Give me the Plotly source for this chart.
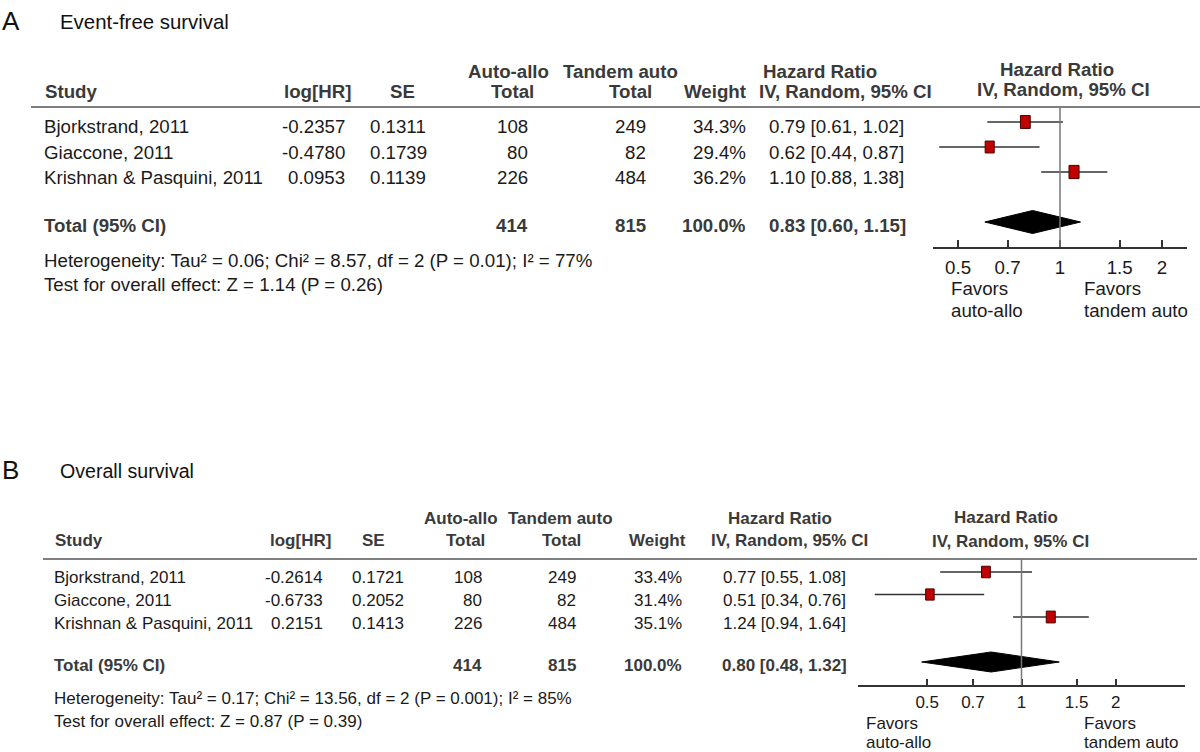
import math
import plotly.graph_objects as go

W, H = 1200, 752
FONT = "Liberation Sans, Arial, Helvetica, sans-serif"

# ---------------- data ----------------
studies = ["Bjorkstrand, 2011", "Giaccone, 2011", "Krishnan & Pasquini, 2011"]
tick_vals = [0.5, 0.7, 1, 1.5, 2]
tick_text = ["0.5", "0.7", "1", "1.5", "2"]
favors_left = ["Favors", "auto-allo"]
favors_right = ["Favors", "tandem auto"]

efs_loghr = [-0.2357, -0.4780, 0.0953]
efs_se = [0.1311, 0.1739, 0.1139]
efs_n_aa = [108, 80, 226]
efs_n_ta = [249, 82, 484]
efs_weight = [34.3, 29.4, 36.2]
efs_hr = [0.79, 0.62, 1.10]
efs_lo = [0.61, 0.44, 0.88]
efs_hi = [1.02, 0.87, 1.38]
efs_total = [414, 815, 100.0, 0.83, 0.60, 1.15]
efs_het = "Heterogeneity: Tau² = 0.06; Chi² = 8.57, df = 2 (P = 0.01); I² = 77%"
efs_test = "Test for overall effect: Z = 1.14 (P = 0.26)"

os_loghr = [-0.2614, -0.6733, 0.2151]
os_se = [0.1721, 0.2052, 0.1413]
os_n_aa = [108, 80, 226]
os_n_ta = [249, 82, 484]
os_weight = [33.4, 31.4, 35.1]
os_hr = [0.77, 0.51, 1.24]
os_lo = [0.55, 0.34, 0.94]
os_hi = [1.08, 0.76, 1.64]
os_total = [414, 815, 100.0, 0.80, 0.48, 1.32]
os_het = "Heterogeneity: Tau² = 0.17; Chi² = 13.56, df = 2 (P = 0.001); I² = 85%"
os_test = "Test for overall effect: Z = 0.87 (P = 0.39)"

# ---------------- layout (pixel positions) ----------------
PANEL_A = dict(
    letter="A", title="Event-free survival", letter_pos=(1, 21), title_pos=(59, 22),
    fs=18.7, tfs=20.4, hy1=71, hy2=91, hline=(31, 1200, 107),
    rows=[126, 152, 177], total_y=226, het_y=260, test_y=284, left=43,
    loghr=(352, 346), se=(402, 398), naa=(508, 512, 529), nta=(620, 653, 647, "right"),
    wt=(747, 747, "right"), hrc=(762, 758, 768, "left"), rhead=(1057, 1063, 69, 90),
    xdom=(933, 1187), ydom=(107, 247), row0=122, step=25, half=0.375,
    sqk=2.2, dia=23, ticklen=7, standoff=3, fav_y=(288, 310), fav_x=(950, 1083),
)
PANEL_B = dict(
    letter="B", title="Overall survival", letter_pos=(1, 470), title_pos=(59, 471),
    fs=17, tfs=19.6, hy1=518, hy2=540, hline=(43, 1197, 559),
    rows=[577, 600, 623], total_y=665, het_y=698, test_y=721, left=53,
    loghr=(332, 324), se=(373, 378), naa=(461, 466, 483), nta=(560, 561, 577, "center"),
    wt=(657, 683, "center"), hrc=(780, 789, 784, "center"), rhead=(1006, 1010, 517, 541),
    xdom=(858, 1185), ydom=(559, 685), row0=572, step=22.5, half=0.522,
    sqk=2.0, dia=20, ticklen=6, standoff=1, fav_y=(723, 742), fav_x=(865, 1083),
)

TXT = "#1a1a1a"
HDR = "#3a3a3a"
LINE = "#555555"

fig = go.Figure()
annotations = []
shapes = []


def px(x):
    return x / W


def py(y):
    return 1 - y / H


def txt(s, x, y, anchor="left", size=18, bold=False, color=TXT):
    annotations.append(dict(
        text=f"<b>{s}</b>" if bold else s, x=px(x), y=py(y), xref="paper", yref="paper",
        xanchor=anchor, yanchor="middle", showarrow=False, borderpad=0,
        font=dict(size=size, color=color, family=FONT)))


def panel(p, ax, studies, loghr, se, n_aa, n_ta, weight, hr, lo, hi, total, het, test):
    fs = p["fs"]
    xa, ya = f"x{ax}" if ax > 1 else "x", f"y{ax}" if ax > 1 else "y"
    # titles
    txt(p["letter"], *p["letter_pos"], size=26, color="#111")
    txt(p["title"], *p["title_pos"], size=p["tfs"], color="#111")
    # headers
    txt("Study", p["left"] + 1, p["hy2"], "left", fs, True, HDR)
    txt("log[HR]", p["loghr"][0], p["hy2"], "right", fs, True, HDR)
    txt("SE", p["se"][0], p["hy2"], "center", fs, True, HDR)
    txt("Auto-allo", p["naa"][0], p["hy1"], "center", fs, True, HDR)
    txt("Total", p["naa"][1], p["hy2"], "center", fs, True, HDR)
    txt("Tandem auto", p["nta"][0], p["hy1"], "center", fs, True, HDR)
    txt("Total", p["nta"][1], p["hy2"], "right" if p["nta"][3] == "right" else "center", fs, True, HDR)
    txt("Weight", p["wt"][0], p["hy2"], p["wt"][2], fs, True, HDR)
    hanc = p["hrc"][3]
    txt("Hazard Ratio", p["hrc"][0], p["hy1"], hanc, fs, True, HDR)
    txt("IV, Random, 95% CI", p["hrc"][1], p["hy2"], hanc, fs, True, HDR)
    rx1, rx2, ry1, ry2 = p["rhead"]
    txt("Hazard Ratio", rx1, ry1, "center", fs, True, HDR)
    txt("IV, Random, 95% CI", rx2, ry2, "center", fs, True, HDR)
    x0, x1, yl = p["hline"]
    shapes.append(dict(type="line", xref="paper", yref="paper", x0=px(x0), x1=px(x1),
                       y0=py(yl), y1=py(yl), line=dict(color=LINE, width=1.5)))
    # study rows
    for i, s in enumerate(studies):
        y = p["rows"][i]
        txt(s, p["left"], y, "left", fs)
        txt(f"{loghr[i]:.4f}", p["loghr"][1], y, "right", fs)
        txt(f"{se[i]:.4f}", p["se"][1], y, "center", fs)
        txt(str(n_aa[i]), p["naa"][2], y, "right", fs)
        txt(str(n_ta[i]), p["nta"][2], y, "right", fs)
        txt(f"{weight[i]:.1f}%", p["wt"][1], y, "right", fs)
        txt(f"{hr[i]:.2f} [{lo[i]:.2f}, {hi[i]:.2f}]", p["hrc"][2], y, hanc, fs)
    ty = p["total_y"]
    txt("Total (95% CI)", p["left"], ty, "left", fs, True, HDR)
    txt(str(total[0]), p["naa"][2], ty, "right", fs, True, HDR)
    txt(str(total[1]), p["nta"][2], ty, "right", fs, True, HDR)
    txt(f"{total[2]:.1f}%", p["wt"][1], ty, "right", fs, True, HDR)
    txt(f"{total[3]:.2f} [{total[4]:.2f}, {total[5]:.2f}]", p["hrc"][2], ty, hanc, fs, True, HDR)
    txt(het, p["left"], p["het_y"], "left", fs)
    txt(test, p["left"], p["test_y"], "left", fs)

    # forest plot marks
    px_per_dec = (p["xdom"][1] - p["xdom"][0]) / (2 * p["half"])
    for i in range(len(studies)):
        fig.add_trace(go.Scatter(x=[lo[i], hi[i]], y=[i, i], mode="lines", xaxis=xa, yaxis=ya,
                                 line=dict(color="#333333", width=1.3), hoverinfo="skip"))
    for i in range(len(studies)):
        hpx = p["sqk"] * math.sqrt(weight[i])
        wpx = 0.76 * hpx
        dx = wpx / 2 / px_per_dec
        dy = hpx / 2 / p["step"]
        a, b = hr[i] * 10 ** (-dx), hr[i] * 10 ** dx
        fig.add_trace(go.Scatter(x=[a, b, b, a, a], y=[i - dy, i - dy, i + dy, i + dy, i - dy],
                                 mode="lines", fill="toself", fillcolor="#c00000",
                                 line=dict(color="#4a0000", width=1), xaxis=xa, yaxis=ya,
                                 hoverinfo="skip"))
    dh = p["dia"] / 2 / p["step"]
    tr = 4
    fig.add_trace(go.Scatter(x=[total[4], total[3], total[5], total[3], total[4]],
                             y=[tr, tr - dh, tr, tr + dh, tr], mode="lines", fill="toself",
                             fillcolor="#000000", line=dict(color="#000000", width=1),
                             xaxis=xa, yaxis=ya, hoverinfo="skip"))
    shapes.append(dict(type="line", xref=xa, yref=f"{ya} domain", x0=1, x1=1, y0=0, y1=1,
                       line=dict(color="#777777", width=1.5)))
    # favors labels
    fy1, fy2 = p["fav_y"]
    fxl, fxr = p["fav_x"]
    txt(favors_left[0], fxl, fy1, "left", fs)
    txt(favors_left[1], fxl, fy2, "left", fs)
    txt(favors_right[0], fxr, fy1, "left", fs)
    txt(favors_right[1], fxr, fy2, "left", fs)

    yb = (p["ydom"][1] - p["row0"]) / p["step"]
    yt = (p["ydom"][0] - p["row0"]) / p["step"]
    xkey = "xaxis" if ax == 1 else f"xaxis{ax}"
    ykey = "yaxis" if ax == 1 else f"yaxis{ax}"
    fig.update_layout(**{
        xkey: dict(type="log", domain=[px(p["xdom"][0]), px(p["xdom"][1])],
                   range=[-p["half"], p["half"]], anchor=ya, showgrid=False, zeroline=False,
                   showline=True, linecolor="#333333", linewidth=1.5,
                   ticks="inside", ticklen=p["ticklen"], tickwidth=1.5, tickcolor="#333333",
                   tickvals=tick_vals, ticktext=tick_text, ticklabelstandoff=p["standoff"],
                   tickfont=dict(size=fs, color=TXT, family=FONT), fixedrange=True),
        ykey: dict(domain=[py(p["ydom"][1]), py(p["ydom"][0])], range=[yb, yt],
                   visible=False, showgrid=False, zeroline=False, anchor=xa, fixedrange=True),
    })


panel(PANEL_A, 1, studies, efs_loghr, efs_se, efs_n_aa, efs_n_ta, efs_weight, efs_hr,
      efs_lo, efs_hi, efs_total, efs_het, efs_test)
panel(PANEL_B, 2, studies, os_loghr, os_se, os_n_aa, os_n_ta, os_weight, os_hr,
      os_lo, os_hi, os_total, os_het, os_test)

fig.update_layout(width=W, height=H, margin=dict(l=0, r=0, t=0, b=0),
                  paper_bgcolor="white", plot_bgcolor="white", showlegend=False,
                  annotations=annotations, shapes=shapes, font=dict(family=FONT))
fig.write_html("out.html", config={"displayModeBar": False},
               post_script="document.body.style.margin='0px';")
